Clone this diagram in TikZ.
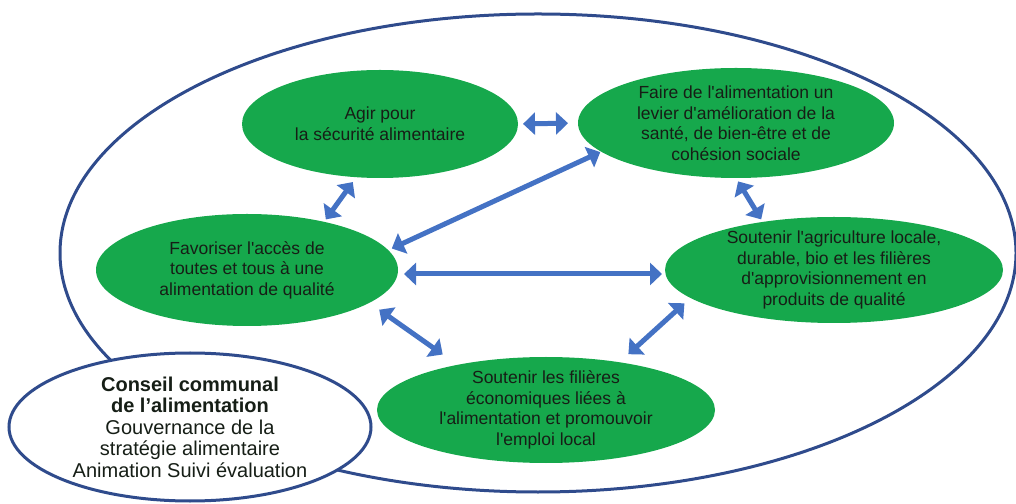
\documentclass[tikz,border=0pt]{standalone}
\usepackage{fontspec}
\setmainfont{Liberation Sans}[Ligatures=TeXOff]
\usetikzlibrary{arrows.meta,shapes.geometric}
\definecolor{navy}{RGB}{47,75,140}
\definecolor{vert}{RGB}{22,168,76}
\definecolor{bleu}{RGB}{68,114,196}
\definecolor{txt}{RGB}{22,30,22}
\tikzset{
  goal/.style={ellipse, fill=vert, draw=none, inner xsep=0pt, inner ysep=-8pt, outer sep=0pt,
    align=center, text=txt, font=\fontsize{17.5}{20.5}\selectfont},
  frame/.style={ellipse, draw=navy, line width=3pt, outer sep=0pt},
  link/.style={draw=bleu, line width=5pt, {Triangle[length=12pt,width=22pt]}-{Triangle[length=12pt,width=22pt]}},
}
\begin{document}
\begin{tikzpicture}[x=1pt,y=1pt]
\useasboundingbox (0,0) rectangle (1016,503);
\node[frame, minimum width=956pt, minimum height=478pt] (cadre) at (538,250) {};
\node[frame, fill=white, minimum width=362pt, minimum height=148pt, inner xsep=0pt, inner ysep=-8pt,
  align=center, text=txt, font=\fontsize{20}{21.5}\selectfont] (conseil) at (190,76)
  {\textbf{Conseil communal}\\\textbf{de l’alimentation}\\Gouvernance de la\\stratégie alimentaire\\Animation Suivi évaluation};
\node[goal, minimum width=276pt, minimum height=108pt] (agir) at (380,379) {Agir pour\\la sécurité alimentaire};
\node[goal, minimum width=316pt, minimum height=110pt] (faire) at (736,380) {Faire de l'alimentation un\\levier d'amélioration de la\\santé, de bien-être et de\\cohésion sociale};
\node[goal, minimum width=302pt, minimum height=112pt] (fav) at (247,233) {Favoriser l'accès de\\toutes et tous à une\\alimentation de qualité};
\node[goal, minimum width=338pt, minimum height=106pt] (agri) at (834,233) {Soutenir l'agriculture locale,\\durable, bio et les filières\\d'approvisionnement en\\produits de qualité};
\node[goal, minimum width=338pt, minimum height=106pt] (fil) at (546,93) {Soutenir les filières\\économiques liées à\\l'alimentation et promouvoir\\l'emploi local};
\draw[link, shorten <=5pt, shorten >=10pt] (agir.east) -- (faire.west);
\draw[link, shorten <=6pt, shorten >=3pt] (agir.246) -- (fav.32);
\draw[link, shorten <=4pt, shorten >=1pt] (fav.8) -- (faire.192);
\draw[link, shorten <=4pt, shorten >=3pt] (faire.270) -- (agri.146);
\draw[link, shorten <=6pt, shorten >=3pt] ([yshift=-4pt]fav.east) -- ([yshift=-4pt]agri.west);
\draw[link, shorten <=12pt, shorten >=18pt] (fav.345) -- (fil.153);
\draw[link, shorten <=8pt, shorten >=12pt] (agri.191) -- (fil.33);
\end{tikzpicture}
\end{document}
